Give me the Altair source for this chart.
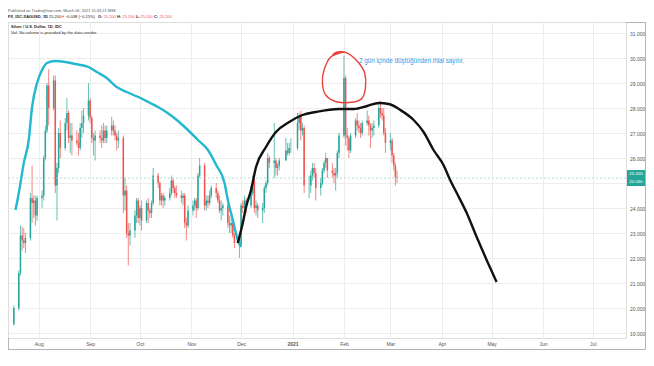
import altair as alt
import pandas as pd
import numpy as np

# ---------------- candle data (daily, XAG/USD) ----------------
holidays = ["2020-12-25", "2021-01-01"]
trade_days = [d for d in pd.bdate_range("2020-07-17", "2021-03-05")
              if d.strftime("%Y-%m-%d") not in holidays]

opens = [
    19.35,
    20.00, 21.40, 22.90, 22.70, 22.60,
    22.80, 24.40, 24.20, 24.30, 23.70,
    24.40, 24.50, 26.00, 27.10, 28.90,
    28.00, 29.10, 24.90, 25.60, 27.00,
    26.40, 27.40, 27.80, 26.80, 26.90,
    26.70, 26.60, 26.40, 27.20, 27.40,
    27.70, 28.30, 27.60, 26.80, 26.70,
    26.90, 26.80, 26.70, 27.10, 26.80,
    27.10, 27.30, 27.10, 26.90, 26.70,
    26.80, 24.50, 24.70, 23.00, 22.90,
    23.10, 23.70, 24.30, 23.60, 24.00,
    23.50, 24.20, 23.90, 23.80, 24.20,
    25.30, 25.00, 24.30, 24.50, 24.30,
    24.40, 24.60, 25.10, 24.80, 24.60,
    24.50, 24.40, 24.50, 23.40, 23.30,
    23.90, 24.10, 24.30, 24.00, 25.30,
    25.70, 24.10, 24.30, 24.20, 24.50,
    24.80, 24.60, 24.30, 23.90, 24.00,
    24.10, 23.40, 23.30, 23.40, 22.90,
    22.60, 22.50, 24.10, 24.00, 24.30,
    24.10, 24.60, 25.10, 24.00, 24.10,
    23.90, 24.00, 24.80, 25.00, 26.00,
    25.80, 25.90, 25.60, 25.70,
    25.90, 26.30, 26.20, 26.40,
    26.40, 27.40, 27.70, 27.10, 27.20,
    24.90, 24.90, 25.30, 25.60, 25.40,
    24.80, 25.00, 25.50, 25.80, 26.00,
    25.50, 25.40, 25.30, 25.40, 26.20,
    26.90, 29.20, 26.90, 26.80, 26.30,
    26.90, 27.50, 27.30, 27.20, 27.00,
    27.40, 27.50, 27.30, 27.10, 27.20,
    27.30, 28.00, 27.80, 27.70, 27.00,
    26.60, 26.70, 26.10, 25.70, 25.24,
]
highs = [
    20.10,
    21.50, 23.30, 23.25, 23.20, 23.00,
    24.60, 25.70, 24.50, 24.50, 24.50,
    24.70, 26.10, 27.30, 29.00, 29.55,
    29.30, 29.30, 25.80, 27.20, 27.50,
    27.60, 28.40, 27.90, 27.40, 27.40,
    27.10, 27.00, 27.40, 27.90, 28.00,
    29.00, 28.40, 27.70, 27.00, 27.10,
    27.10, 27.30, 27.40, 27.30, 27.30,
    27.65, 27.50, 27.30, 27.00, 27.10,
    26.90, 25.20, 24.90, 23.40, 23.40,
    23.90, 24.40, 24.40, 24.10, 24.30,
    24.30, 24.40, 24.00, 24.30, 25.60,
    25.40, 25.05, 24.60, 24.60, 24.50,
    24.80, 25.30, 25.20, 24.90, 24.90,
    24.70, 24.60, 24.60, 23.60, 24.10,
    24.30, 24.40, 24.40, 25.40, 26.00,
    25.80, 24.50, 24.50, 24.70, 24.90,
    25.00, 24.70, 24.50, 24.30, 24.20,
    24.20, 23.70, 23.60, 23.50, 23.00,
    22.80, 24.20, 24.30, 24.50, 24.40,
    24.90, 25.30, 25.20, 24.30, 24.20,
    24.20, 24.90, 25.10, 26.20, 26.10,
    27.40, 26.00, 25.80, 26.00,
    26.80, 26.60, 26.60, 26.80,
    27.80, 27.80, 27.90, 27.40, 27.30,
    25.30, 25.50, 25.80, 25.80, 25.60,
    25.20, 25.60, 25.90, 26.20, 26.00,
    25.80, 25.60, 25.60, 26.30, 27.00,
    30.10, 29.30, 27.20, 26.90, 27.00,
    27.60, 27.80, 27.50, 27.40, 27.50,
    27.90, 27.70, 27.40, 27.40, 27.50,
    28.20, 28.30, 28.00, 28.00, 27.20,
    27.00, 26.80, 26.20, 25.80, 25.50,
]
lows = [
    19.30,
    19.90, 21.30, 22.30, 22.40, 22.20,
    22.70, 23.40, 23.60, 23.30, 23.50,
    24.00, 24.30, 25.90, 27.00, 27.30,
    27.90, 24.60, 23.50, 25.40, 26.00,
    26.30, 27.10, 26.60, 26.20, 26.10,
    26.50, 26.10, 26.30, 26.80, 27.00,
    27.50, 27.40, 26.60, 26.10, 25.90,
    26.60, 26.40, 26.60, 26.60, 26.60,
    26.90, 26.90, 26.70, 26.30, 26.40,
    23.80, 23.90, 22.80, 21.70, 22.50,
    22.80, 23.40, 23.40, 23.30, 23.10,
    23.40, 23.40, 23.60, 23.60, 24.10,
    24.80, 24.10, 24.10, 24.00, 24.10,
    24.30, 24.50, 24.60, 24.40, 24.40,
    24.20, 24.10, 23.20, 22.70, 23.20,
    23.70, 23.90, 23.60, 23.90, 25.20,
    23.90, 23.90, 24.00, 24.10, 24.40,
    24.40, 24.20, 23.80, 23.50, 23.70,
    23.20, 23.00, 23.00, 22.80, 22.40,
    22.00, 22.50, 23.80, 23.90, 23.80,
    24.00, 24.50, 23.80, 23.70, 23.60,
    23.40, 23.80, 24.60, 24.90, 25.60,
    25.20, 25.30, 25.30, 25.50,
    25.90, 26.10, 26.10, 26.20,
    26.30, 27.10, 26.70, 26.90, 24.60,
    24.40, 24.60, 25.10, 25.20, 24.30,
    24.50, 24.90, 25.40, 25.60, 25.20,
    25.20, 25.00, 24.70, 25.20, 26.00,
    26.80, 26.50, 26.30, 26.00, 26.20,
    26.80, 27.10, 27.00, 26.80, 26.90,
    27.30, 26.90, 26.40, 26.80, 26.90,
    27.20, 27.60, 27.50, 26.90, 26.20,
    26.30, 25.80, 25.50, 24.90, 25.00,
]
closes = [
    20.00,
    21.40, 22.90, 22.70, 22.60, 22.80,
    24.40, 24.20, 24.30, 23.70, 24.40,
    24.50, 26.00, 27.10, 28.90, 28.00,
    29.10, 24.90, 25.60, 27.00, 26.40,
    27.40, 27.80, 26.80, 26.90, 26.70,
    26.60, 26.40, 27.20, 27.40, 27.70,
    28.30, 27.60, 26.80, 26.70, 26.90,
    26.80, 26.70, 27.10, 26.80, 27.10,
    27.30, 27.10, 26.90, 26.70, 26.80,
    24.50, 24.70, 23.00, 22.90, 23.10,
    23.70, 24.30, 23.60, 24.00, 23.50,
    24.20, 23.90, 23.80, 24.20, 25.30,
    25.00, 24.30, 24.50, 24.30, 24.40,
    24.60, 25.10, 24.80, 24.60, 24.50,
    24.40, 24.50, 23.40, 23.30, 23.90,
    24.10, 24.30, 24.00, 25.30, 25.70,
    24.10, 24.30, 24.20, 24.50, 24.80,
    24.60, 24.30, 23.90, 24.00, 24.10,
    23.40, 23.30, 23.40, 22.90, 22.60,
    22.50, 24.10, 24.00, 24.30, 24.10,
    24.60, 25.10, 24.00, 24.10, 23.90,
    24.00, 24.80, 25.00, 26.00, 25.80,
    25.90, 25.60, 25.70, 25.90,
    26.30, 26.20, 26.40, 26.40,
    27.40, 27.70, 27.10, 27.20, 24.90,
    24.90, 25.30, 25.60, 25.40, 24.80,
    25.00, 25.50, 25.80, 26.00, 25.50,
    25.40, 25.30, 25.40, 26.20, 26.90,
    29.20, 26.90, 26.80, 26.30, 26.90,
    27.50, 27.30, 27.20, 27.00, 27.40,
    27.50, 27.30, 27.10, 27.20, 27.30,
    28.00, 27.80, 27.70, 27.00, 26.60,
    26.70, 26.10, 25.70, 25.24, 25.20,
]
assert len(opens) == len(highs) == len(lows) == len(closes) == len(trade_days), (
    len(opens), len(highs), len(lows), len(closes), len(trade_days))

# ---------------- hand-drawn annotations ----------------
cyan_dates = ["2020-07-18", "2020-07-20", "2020-07-23", "2020-07-26", "2020-07-28",
              "2020-07-31", "2020-08-03", "2020-08-06", "2020-08-11", "2020-08-17",
              "2020-08-23", "2020-08-31", "2020-09-05", "2020-09-11", "2020-09-17",
              "2020-09-23", "2020-09-30", "2020-10-06", "2020-10-15", "2020-10-21",
              "2020-10-28", "2020-11-05", "2020-11-11", "2020-11-16", "2020-11-21",
              "2020-11-23", "2020-11-26", "2020-11-29", "2020-12-01"]
cyan_prices = [23.92, 24.60, 25.80, 26.72, 28.04,
               29.00, 29.52, 29.80, 29.88, 29.84,
               29.76, 29.64, 29.44, 29.20, 28.84,
               28.64, 28.44, 28.24, 27.92, 27.64,
               27.24, 26.72, 26.32, 25.72, 25.00,
               24.32, 23.52, 22.72, 22.44]

black_dates = ["2020-11-29", "2020-12-02", "2020-12-04", "2020-12-07", "2020-12-10",
               "2020-12-16", "2020-12-22", "2020-12-30", "2021-01-07", "2021-01-15",
               "2021-01-29", "2021-02-07", "2021-02-15", "2021-02-22", "2021-02-28",
               "2021-03-07", "2021-03-15", "2021-03-21", "2021-03-27", "2021-04-02",
               "2021-04-06", "2021-04-10", "2021-04-16", "2021-04-22", "2021-04-28",
               "2021-05-04"]
black_prices = [22.60, 23.40, 24.04, 24.72, 25.64,
                26.44, 27.04, 27.44, 27.72, 27.84,
                27.96, 27.96, 28.08, 28.20, 28.16,
                27.92, 27.52, 27.04, 26.32, 25.72,
                25.12, 24.60, 23.80, 22.84, 21.92,
                21.04]

ellipse_dates = ["2021-02-01 00:00", "2021-01-24 00:00", "2021-01-20 00:00",
                 "2021-01-19 00:00", "2021-01-21 00:00", "2021-01-28 00:00",
                 "2021-02-07 00:00", "2021-02-12 00:00", "2021-02-14 00:00",
                 "2021-02-13 12:00", "2021-02-10 00:00", "2021-02-05 00:00",
                 "2021-02-01 00:00", "2021-01-28 00:00", "2021-01-25 00:00"]
ellipse_prices = [30.24, 30.04, 29.52, 29.00, 28.52,
                  28.24, 28.24, 28.40, 28.84,
                  29.40, 29.80, 30.12, 30.24, 30.24,
                  30.12]

note_text = "2 gün içinde düştüğünden ihlal sayılır."
note_date = "2021-02-10"
note_price = 29.88

last_price = 25.2
last_price_label = "25.200"
countdown_label = "20:16h"

month_ticks = [(2020, 8), (2020, 9), (2020, 10), (2020, 11), (2020, 12),
               (2021, 1), (2021, 2), (2021, 3), (2021, 4), (2021, 5),
               (2021, 6), (2021, 7)]
price_ticks = [19, 20, 21, 22, 23, 24, 25, 26, 27, 28, 29, 30, 31]

# ---------------- build tables ----------------
candles = pd.DataFrame({"date": trade_days, "open": opens, "high": highs,
                        "low": lows, "close": closes})
candles["dir"] = np.where(candles["close"] >= candles["open"], "up", "down")

cyan_df = pd.DataFrame({"date": pd.to_datetime(cyan_dates), "price": cyan_prices})
black_df = pd.DataFrame({"date": pd.to_datetime(black_dates), "price": black_prices})
ell_df = pd.DataFrame({"date": pd.to_datetime(ellipse_dates, format="%Y-%m-%d %H:%M"),
                       "price": ellipse_prices,
                       "i": list(range(len(ellipse_dates)))})
note_df = pd.DataFrame({"date": pd.to_datetime([note_date]), "price": [note_price],
                        "t": [note_text]})
last_df = pd.DataFrame({"price": [last_price], "top": [last_price + 0.32],
                        "bot": [last_price - 0.32],
                        "l1": [last_price_label], "l2": [countdown_label]})
one = pd.DataFrame({"a": [0]})

# layout (plot area), kept inside the 654x366 window with the 8px page margin
W, H = 618, 316
FR_R, FR_B = 637.5, 327.5          # outer frame right / bottom (plot coords)
FONT = "Liberation Sans"
TEAL, RED = "#26a69a", "#ef5350"

xscale = alt.Scale(domain=[alt.DateTime(year=2020, month=7, date=16, hours=12),
                           alt.DateTime(year=2021, month=7, date=18)])
yscale = alt.Scale(domain=[18.8, 31.44], zero=False, nice=False)

xaxis = alt.Axis(
    values=[alt.DateTime(year=y, month=m, date=1) for y, m in month_ticks],
    labelExpr="month(datum.value)==0 ? timeFormat(datum.value,'%Y') : timeFormat(datum.value,'%b')",
    labelFontWeight={"condition": {"test": "month(datum.value)==0", "value": "bold"},
                     "value": "normal"},
    grid=True, gridColor="#ededed", domain=False, ticks=False,
    labelFontSize=5.0, labelColor="#555", labelPadding=3.5, title=None,
    labelOverlap=False)
yaxis = alt.Axis(orient="right", values=price_ticks, grid=True,
                 labelExpr="datum.value == 25 ? '' : format(datum.value, '.3f')",
                 gridColor="#ededed", domain=False, ticks=False, labelFontSize=5.0,
                 labelColor="#555", labelPadding=3.5, title=None, labelOverlap=False,
                 tickCount=len(price_ticks))

X = lambda f="date:T": alt.X(f, scale=xscale, axis=xaxis)
Y = lambda f: alt.Y(f, scale=yscale, axis=yaxis)

color = alt.Color("dir:N", scale=alt.Scale(domain=["up", "down"], range=[TEAL, RED]),
                  legend=None)

wicks = alt.Chart(candles).mark_rule(strokeWidth=0.7).encode(
    x=X(), y=Y("low:Q"), y2="high:Q", color=color)
bodies = alt.Chart(candles).mark_bar(width=1.5).encode(
    x=X(), y=Y("open:Q"), y2="close:Q", color=color)

price_line = alt.Chart(last_df).mark_rule(color="#9fd4ce", strokeWidth=0.8,
                                          strokeDash=[2, 2]).encode(
    y=Y("price:Q"), x=alt.value(0), x2=alt.value(W))

cyan = alt.Chart(cyan_df).mark_line(color="#22b8cf", strokeWidth=2.4,
                                    interpolate="monotone").encode(
    x=X(), y=Y("price:Q"))
black = alt.Chart(black_df).mark_line(color="#111111", strokeWidth=2.4,
                                      interpolate="monotone").encode(
    x=X(), y=Y("price:Q"))
ellipse = alt.Chart(ell_df).mark_line(color="#e8413b", strokeWidth=1.4,
                                      interpolate="cardinal").encode(
    x=X(), y=Y("price:Q"), order="i:Q")
note = alt.Chart(note_df).mark_text(align="left", baseline="middle", fontSize=6.3,
                                    color="#2f9be8", font=FONT).encode(
    x=X(), y=Y("price:Q"), text="t:N")

# price label box on right axis
box = alt.Chart(last_df).mark_rect(color="#26a69a").encode(
    x=alt.value(W + 1), x2=alt.value(FR_R - 0.5), y=Y("top:Q"), y2="bot:Q")
box_t1 = alt.Chart(last_df).mark_text(color="white", fontSize=4.4, font=FONT,
                                      dy=-3.6).encode(
    x=alt.value(628), y=Y("price:Q"), text="l1:N")
box_t2 = alt.Chart(last_df).mark_text(color="white", fontSize=4.4, font=FONT,
                                      dy=3.6).encode(
    x=alt.value(628), y=Y("price:Q"), text="l2:N")

# outer frame
frame_col = "#b4b4b4"
frame = [
    alt.Chart(one).mark_rule(color=frame_col, strokeWidth=1).encode(
        x=alt.value(FR_R), y=alt.value(0), y2=alt.value(FR_B)),
    alt.Chart(one).mark_rule(color=frame_col, strokeWidth=1).encode(
        x=alt.value(0), x2=alt.value(FR_R), y=alt.value(FR_B)),
    alt.Chart(one).mark_rule(color=frame_col, strokeWidth=1).encode(
        x=alt.value(0.5), y=alt.value(H), y2=alt.value(FR_B)),
    alt.Chart(one).mark_rule(color=frame_col, strokeWidth=1).encode(
        x=alt.value(W), x2=alt.value(FR_R), y=alt.value(0.5)),
]

# header texts
def txt(s, x, y, size=4.0, color="#333", weight="normal"):
    return alt.Chart(one).mark_text(align="left", baseline="middle", fontSize=size,
                                    color=color, fontWeight=weight, font=FONT).encode(
        x=alt.value(x), y=alt.value(y), text=alt.value(s))

DARK = "#222"
L1, L2 = -11.3, -4.6
header = [
    txt("Published on TradingView.com, March 06, 2021 15:43:21 MSK", 0, L1, 3.9, "#555"),
    txt("FX_IDC:XAGUSD, 1D", 0, L2, 4.0, DARK, "bold"),
    txt("25.200", 41, L2, 4.0, DARK),
    txt("\u25bc", 53, L2, 3.8, RED),
    txt("\u22120.038 (\u22120.15%)", 57, L2, 4.0, DARK),
    txt("O:", 90, L2, 4.0, DARK, "bold"),
    txt("25.200", 95.5, L2, 4.0, RED),
    txt("H:", 109, L2, 4.0, DARK, "bold"),
    txt("25.200", 114.5, L2, 4.0, RED),
    txt("L:", 128, L2, 4.0, DARK, "bold"),
    txt("25.200", 132.5, L2, 4.0, RED),
    txt("C:", 146, L2, 4.0, DARK, "bold"),
    txt("25.200", 151.5, L2, 4.0, RED),
    txt("Silver / U.S. Dollar, 1D, IDC", 3, 4.5, 4.0, DARK, "bold"),
    txt("Vol: No volume is provided by the data vendor.", 3, 11, 4.2, "#333"),
]

chart = alt.layer(
    wicks, bodies, price_line, cyan, black, ellipse, note, box, box_t1, box_t2,
    *frame, *header
).properties(
    width=W, height=H,
    autosize=alt.AutoSizeParams(type="none"),
    padding={"left": 0, "top": 14, "right": 20, "bottom": 12},
).configure_view(
    stroke="#c8c8c8", strokeWidth=1
).configure(
    font=FONT, background="white"
)

chart.save("out.html", embed_options={"renderer": "svg", "actions": False})
